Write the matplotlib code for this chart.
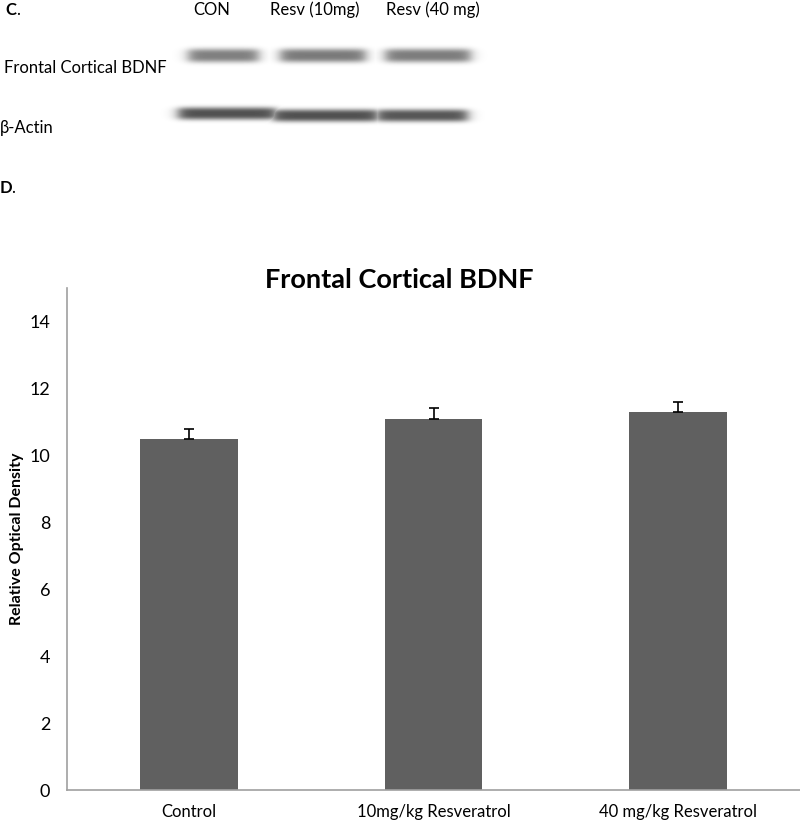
import numpy as np
import matplotlib
matplotlib.use("Agg")
import matplotlib.pyplot as plt

plt.rcParams['font.family'] = ['Lato', 'DejaVu Sans']

# bar chart data
groups = ["Control", "10mg/kg Resveratrol", "40 mg/kg Resveratrol"]
means = [10.5, 11.1, 11.3]
errs = [0.3, 0.3, 0.3]
yticks = [0, 2, 4, 6, 8, 10, 12, 14]

# western blot lanes (pixel x ranges) and band darkness
lane_names = ["CON", "Resv (10mg)", "Resv (40 mg)"]
lane_name_x = [193, 270, 386]
bdnf_x = [(188, 258), (280, 365), (385, 470)]
bdnf_dark = [0.50, 0.52, 0.51]
actin_x = [(178, 276), (272, 378), (376, 467)]
actin_y = [113, 115, 115]
actin_dark = [0.68, 0.68, 0.66]

W, H = 800, 821
fig = plt.figure(figsize=(W / 100, H / 100), dpi=100)

# ---- blot panel, drawn in pixel coordinates
top = fig.add_axes([0, 0, 1, 1])
top.set_xlim(0, W)
top.set_ylim(H, 0)
top.axis("off")

xs = np.arange(160, 490)
ys = np.arange(30, 140)
X, Y = np.meshgrid(xs, ys)


def band(x0, x1, yc, dark, sy):
    edge = 3.5
    px = 1 / (1 + np.exp(-(X - x0) / edge)) * 1 / (1 + np.exp((X - x1) / edge))
    py = np.exp(-0.5 * (np.abs(Y - yc) / sy) ** 3)
    return dark * px * py


ink = np.zeros(X.shape)
for (x0, x1), d in zip(bdnf_x, bdnf_dark):
    ink = np.maximum(ink, band(x0, x1, 55, d, 5.5))
for (x0, x1), yc, d in zip(actin_x, actin_y, actin_dark):
    ink = np.maximum(ink, band(x0, x1, yc, d, 5.0))

top.imshow(1 - ink, cmap="gray", vmin=0, vmax=1, aspect="auto",
           extent=(xs[0], xs[-1] + 1, ys[-1] + 1, ys[0]), zorder=1)

top.text(5, 10, "C", fontsize=12, fontweight="bold", va="center")
top.text(16, 10, ".", fontsize=12, va="center")
for name, x in zip(lane_names, lane_name_x):
    top.text(x, 10, name, fontsize=12, va="center")
top.text(4, 68, "Frontal Cortical BDNF", fontsize=12, va="center")
top.text(0, 128, "β-Actin", fontsize=12, va="center")
top.text(0, 188, "D", fontsize=12, fontweight="bold", va="center")
top.text(11, 188, ".", fontsize=12, va="center")
top.text(399, 288, "Frontal Cortical BDNF", fontsize=19.5, fontweight="bold",
         ha="center", va="baseline")

# ---- bar chart
ax = fig.add_axes([67 / W, 31 / H, 733 / W, 502 / H])
x = np.arange(len(groups))
ax.bar(x, means, width=0.4, color="#606060", zorder=2)
ax.errorbar(x, means, yerr=[np.zeros(len(errs)), errs], fmt="none",
            ecolor="black", elinewidth=1.2, capsize=3.5, capthick=1.2, zorder=3)

ax.set_xlim(-0.5, 2.5)
ax.set_ylim(0, 15)
ax.set_yticks(yticks)
ax.set_xticks(x)
ax.set_xticklabels(groups)
ax.tick_params(axis="both", length=0)
ax.tick_params(axis="y", pad=12, labelsize=13)
ax.tick_params(axis="x", pad=10, labelsize=12)
for s in ["top", "right"]:
    ax.spines[s].set_visible(False)
for s in ["left", "bottom"]:
    ax.spines[s].set_color("#a0a0a0")
    ax.spines[s].set_linewidth(1.2)

ax.set_ylabel("Relative Optical Density", fontsize=11.5, fontweight="bold")
ax.yaxis.set_label_coords(-0.058, 0.5)

fig.savefig("out.png", dpi=100)
